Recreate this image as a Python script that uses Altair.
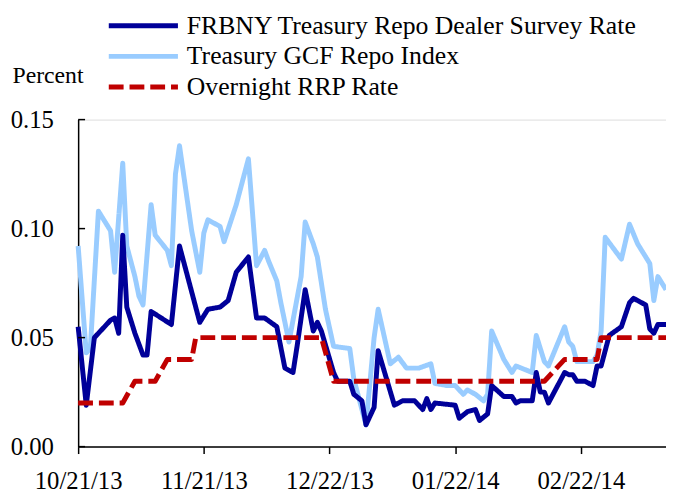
import altair as alt
import pandas as pd

START = "2013-10-21"

frbny_dates = [
    "2013-10-21", "2013-10-23", "2013-10-25", "2013-10-29", "2013-10-30", "2013-10-31", "2013-11-01", "2013-11-02", "2013-11-04", "2013-11-06",
    "2013-11-07", "2013-11-08", "2013-11-13", "2013-11-15", "2013-11-20", "2013-11-22", "2013-11-25", "2013-11-27", "2013-11-29", "2013-12-02",
    "2013-12-04", "2013-12-06", "2013-12-09", "2013-12-11", "2013-12-13", "2013-12-14", "2013-12-16", "2013-12-18", "2013-12-19", "2013-12-20",
    "2013-12-23", "2013-12-24", "2013-12-27", "2013-12-28", "2013-12-30", "2013-12-31", "2014-01-02", "2014-01-03", "2014-01-07", "2014-01-09",
    "2014-01-12", "2014-01-14", "2014-01-15", "2014-01-16", "2014-01-17", "2014-01-22", "2014-01-23", "2014-01-25", "2014-01-27", "2014-01-28",
    "2014-01-30", "2014-01-31", "2014-02-03", "2014-02-05", "2014-02-06", "2014-02-07", "2014-02-10", "2014-02-11", "2014-02-12", "2014-02-13",
    "2014-02-14", "2014-02-18", "2014-02-19", "2014-02-20", "2014-02-21", "2014-02-23", "2014-02-25", "2014-02-26", "2014-02-27", "2014-03-01",
    "2014-03-04", "2014-03-06", "2014-03-07", "2014-03-10", "2014-03-11", "2014-03-12", "2014-03-13", "2014-03-15",
]
frbny_values = [
    0.055, 0.019, 0.050, 0.058, 0.059, 0.052, 0.097, 0.064, 0.052, 0.042,
    0.042, 0.062, 0.056, 0.092, 0.057, 0.063, 0.064, 0.067, 0.080, 0.087,
    0.059, 0.059, 0.055, 0.036, 0.034, 0.046, 0.072, 0.053, 0.057, 0.053,
    0.034, 0.030, 0.030, 0.024, 0.021, 0.010, 0.018, 0.044, 0.019, 0.021,
    0.021, 0.017, 0.022, 0.017, 0.020, 0.019, 0.013, 0.016, 0.017, 0.012,
    0.015, 0.028, 0.023, 0.023, 0.020, 0.021, 0.021, 0.034, 0.025, 0.025,
    0.020, 0.034, 0.033, 0.033, 0.030, 0.030, 0.028, 0.037, 0.037, 0.051,
    0.055, 0.066, 0.068, 0.065, 0.054, 0.052, 0.056, 0.056,
]

gcf_dates = [
    "2013-10-21", "2013-10-23", "2013-10-24", "2013-10-26", "2013-10-29", "2013-10-30", "2013-11-01", "2013-11-02", "2013-11-04", "2013-11-05",
    "2013-11-06", "2013-11-08", "2013-11-09", "2013-11-12", "2013-11-13", "2013-11-14", "2013-11-15", "2013-11-18", "2013-11-20", "2013-11-21",
    "2013-11-22", "2013-11-25", "2013-11-26", "2013-11-29", "2013-12-02", "2013-12-04", "2013-12-06", "2013-12-07", "2013-12-09", "2013-12-10",
    "2013-12-12", "2013-12-15", "2013-12-16", "2013-12-18", "2013-12-19", "2013-12-21", "2013-12-23", "2013-12-27", "2013-12-28", "2013-12-31",
    "2014-01-02", "2014-01-03", "2014-01-06", "2014-01-08", "2014-01-10", "2014-01-13", "2014-01-16", "2014-01-17", "2014-01-20", "2014-01-22",
    "2014-01-24", "2014-01-25", "2014-01-27", "2014-01-29", "2014-01-30", "2014-01-31", "2014-02-03", "2014-02-05", "2014-02-06", "2014-02-10",
    "2014-02-11", "2014-02-13", "2014-02-14", "2014-02-18", "2014-02-19", "2014-02-20", "2014-02-21", "2014-02-25", "2014-02-26", "2014-02-27",
    "2014-02-28", "2014-03-04", "2014-03-06", "2014-03-08", "2014-03-11", "2014-03-12", "2014-03-13", "2014-03-15",
]
gcf_values = [
    0.092, 0.043, 0.045, 0.108, 0.099, 0.080, 0.130, 0.092, 0.078, 0.069,
    0.065, 0.111, 0.097, 0.090, 0.083, 0.125, 0.138, 0.099, 0.080, 0.098,
    0.104, 0.101, 0.094, 0.111, 0.132, 0.083, 0.090, 0.085, 0.076, 0.066,
    0.048, 0.078, 0.103, 0.093, 0.087, 0.063, 0.046, 0.045, 0.031, 0.010,
    0.050, 0.063, 0.038, 0.041, 0.036, 0.036, 0.038, 0.029, 0.028, 0.028,
    0.024, 0.026, 0.024, 0.021, 0.024, 0.053, 0.040, 0.034, 0.037, 0.034,
    0.051, 0.039, 0.037, 0.055, 0.048, 0.046, 0.039, 0.039, 0.042, 0.053,
    0.096, 0.086, 0.102, 0.093, 0.084, 0.067, 0.078, 0.072,
]

rrp_dates = [
    "2013-10-21", "2013-11-01", "2013-11-04", "2013-11-09", "2013-11-12", "2013-11-18", "2013-11-19",
    "2013-12-20", "2013-12-23", "2014-02-13", "2014-02-18", "2014-02-26", "2014-02-27", "2014-03-15",
]
rrp_values = [0.02, 0.02, 0.03, 0.03, 0.04, 0.04, 0.05, 0.05, 0.03, 0.03, 0.04, 0.04, 0.05, 0.05]

series_names = [
    "FRBNY Treasury Repo Dealer Survey Rate",
    "Treasury GCF Repo Index",
    "Overnight RRP Rate",
]
series_colors = ["#000099", "#99CCFF", "#C00000"]
series_dashes = [[1, 0], [1, 0], [15, 6]]

tick_dates = ["2013-10-21", "2013-11-21", "2013-12-22", "2014-01-22", "2014-02-22"]
tick_labels = ["10/21/13", "11/21/13", "12/22/13", "01/22/14", "02/22/14"]
y_ticks = [0.0, 0.05, 0.10, 0.15]
end_date = "2014-03-15"

start = pd.Timestamp(START)


def to_days(dates):
    return [(pd.Timestamp(d) - start).days for d in dates]


frames = []
for name, dates, vals in [
    (series_names[0], frbny_dates, frbny_values),
    (series_names[1], gcf_dates, gcf_values),
    (series_names[2], rrp_dates, rrp_values),
]:
    frames.append(pd.DataFrame({"series": name, "day": to_days(dates), "value": vals}))
df = pd.concat(frames, ignore_index=True)

tick_days = to_days(tick_dates)
label_expr = " : ".join(
    f"datum.value == {d} ? '{lab}'" for d, lab in zip(tick_days, tick_labels)
) + " : ''"

FONT = "Liberation Serif"

x_enc = alt.X(
    "day:Q",
    scale=alt.Scale(domain=[0, to_days([end_date])[0]], nice=False, zero=False),
    axis=alt.Axis(
        values=tick_days, labelExpr=label_expr, title=None, grid=False,
        tickSize=7, tickWidth=1.5, tickColor="black",
        domainWidth=1.5, domainColor="black",
        labelFont=FONT, labelFontSize=25, labelColor="black",
        labelPadding=15, labelFlush=False, labelOverlap=False,
    ),
)
y_enc = alt.Y(
    "value:Q",
    scale=alt.Scale(domain=[0, 0.15], nice=False),
    axis=alt.Axis(
        values=y_ticks, format=".2f", grid=False,
        tickSize=0, domainWidth=1.5, domainColor="black",
        labelFont=FONT, labelFontSize=25, labelColor="black", labelPadding=25,
        title="Percent", titleAngle=0, titleX=-67, titleY=-45,
        titleAlign="left", titleBaseline="middle",
        titleFont=FONT, titleFontSize=24, titleFontWeight="normal", titleColor="black",
    ),
)

legend = alt.Legend(
    title=None, orient="none", legendX=53, legendY=-108,
    symbolType="M-5,0H5", symbolSize=196, symbolStrokeWidth=5,
    labelFont=FONT, labelFontSize=26, labelColor="black", labelOffset=31,
    labelLimit=0, rowPadding=5, padding=0, symbolOffset=0,
)
color_enc = alt.Color(
    "series:N", scale=alt.Scale(domain=series_names, range=series_colors), legend=legend
)
dash_enc = alt.StrokeDash(
    "series:N", scale=alt.Scale(domain=series_names, range=series_dashes), legend=legend
)

base = alt.Chart(df)
layers = []
for name in [series_names[1], series_names[0], series_names[2]]:
    layers.append(
        base.transform_filter(alt.datum.series == name)
        .mark_line(strokeWidth=5, strokeJoin="round")
        .encode(x=x_enc, y=y_enc, color=color_enc, strokeDash=dash_enc)
    )

ticks = alt.Chart(pd.DataFrame({"value": y_ticks})).mark_rule(
    color="black", strokeWidth=1.5
).encode(y=y_enc, x=alt.value(0), x2=alt.value(7))

chart = (
    alt.layer(*layers, ticks)
    .properties(
        width=595, height=331,
        autosize=alt.AutoSizeParams(type="none"),
        padding={"left": 71, "top": 110, "right": 0, "bottom": 45},
    )
    .configure_view(stroke=None)
    .configure(background="white")
)

chart.save("out.html", embed_options={"renderer": "svg", "actions": False})
